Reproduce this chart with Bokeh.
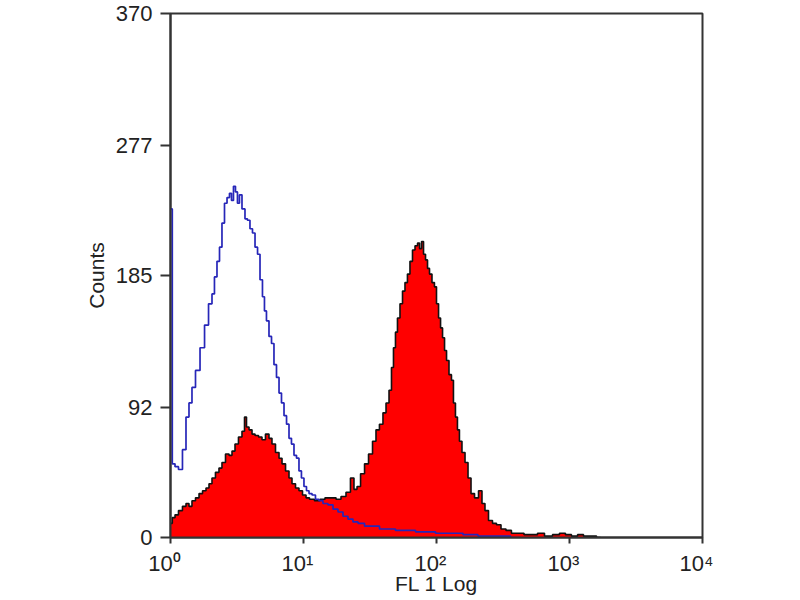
from bokeh.plotting import figure
from bokeh.models import FixedTicker, CustomJSTickFormatter, Range1d
from bokeh.embed import file_html
from bokeh.resources import INLINE

# ---- data (bin positions in log10 decades, counts) ----
blue_log = [0.004, 0.023, 0.045, 0.075, 0.105, 0.128, 0.150, 0.173, 0.203, 0.241,
            0.271, 0.301, 0.323, 0.338, 0.361, 0.376, 0.398, 0.414, 0.436, 0.451,
            0.466, 0.481, 0.496, 0.511, 0.526, 0.549, 0.571, 0.586, 0.609, 0.624,
            0.647, 0.662, 0.684, 0.699, 0.714, 0.729, 0.752, 0.767, 0.789, 0.805,
            0.827, 0.842, 0.865, 0.880, 0.902, 0.917, 0.940, 0.955, 0.977, 0.992,
            1.015, 1.030, 1.053, 1.075, 1.105, 1.128, 1.165, 1.203, 1.241, 1.278,
            1.316, 1.353, 1.391, 1.429, 1.489, 1.541, 1.602, 1.654, 1.729, 1.805,
            1.880, 1.955, 2.030, 2.143, 2.256, 2.368, 2.481, 2.632]
blue_counts = [232, 52, 50, 48, 62, 85, 95, 106, 118, 134,
               150, 165, 172, 184, 195, 205, 222, 236, 240, 243,
               238, 248, 244, 236, 242, 232, 225, 224, 218, 215,
               205, 200, 182, 170, 160, 153, 142, 137, 122, 113,
               102, 95, 86, 80, 70, 66, 58, 56, 47, 42,
               36, 33, 31, 30, 27, 26, 24, 23, 20, 18,
               15, 13, 11, 10, 8, 8, 6, 6, 5, 5,
               4, 4, 3, 3, 2, 1, 1, 0]

red_log = [0.004, 0.023, 0.045, 0.075, 0.105, 0.128, 0.150, 0.173, 0.203, 0.226,
           0.256, 0.278, 0.301, 0.323, 0.353, 0.376, 0.398, 0.429, 0.451, 0.474,
           0.496, 0.526, 0.549, 0.564, 0.579, 0.602, 0.624, 0.647, 0.677, 0.699,
           0.729, 0.752, 0.774, 0.805, 0.827, 0.850, 0.880, 0.902, 0.925, 0.955,
           0.977, 1.008, 1.030, 1.060, 1.105, 1.143, 1.180, 1.226, 1.263, 1.301,
           1.338, 1.368, 1.391, 1.414, 1.444, 1.474, 1.504, 1.534, 1.556, 1.586,
           1.609, 1.632, 1.654, 1.669, 1.684, 1.699, 1.714, 1.737, 1.752, 1.774,
           1.789, 1.812, 1.827, 1.850, 1.865, 1.880, 1.895, 1.910, 1.925, 1.940,
           1.955, 1.977, 1.992, 2.008, 2.023, 2.038, 2.053, 2.068, 2.083, 2.105,
           2.120, 2.135, 2.150, 2.165, 2.180, 2.203, 2.226, 2.248, 2.271, 2.301,
           2.331, 2.353, 2.376, 2.406, 2.436, 2.466, 2.504, 2.541, 2.586, 2.632,
           2.684, 2.737, 2.782, 2.842, 2.902, 2.947, 2.992, 3.038, 3.083, 3.128,
           3.173, 3.233]
red_counts = [10, 14, 16, 19, 22, 24, 22, 26, 28, 31,
              33, 35, 38, 42, 46, 49, 53, 59, 58, 61,
              66, 71, 75, 85, 78, 76, 73, 72, 71, 69,
              73, 70, 66, 60, 56, 52, 47, 42, 38, 35,
              33, 30, 28, 27, 26, 27, 28, 28, 27, 29,
              32, 42, 34, 36, 45, 52, 59, 68, 76, 80,
              88, 95, 104, 120, 134, 145, 155, 165, 174, 180,
              186, 195, 203, 206, 208, 204, 209, 200, 196, 190,
              186, 180, 177, 165, 155, 148, 141, 132, 125, 115,
              111, 95, 85, 76, 68, 60, 53, 42, 31, 28,
              33, 24, 19, 12, 10, 9, 6, 5, 3, 3,
              2, 2, 3, 1, 2, 3, 2, 1, 2, 1,
              1, 0]

y_ticks = [0, 92, 185, 277, 370]
x_ticks = [1, 10, 100, 1000, 10000]

blue_x = [10 ** d for d in blue_log]
red_x = [10 ** d for d in red_log]

p = figure(x_axis_type="log", x_range=Range1d(1, 10000), y_range=Range1d(0, 370),
           frame_width=532, frame_height=524,
           min_border_left=170, min_border_top=13, min_border_right=90, min_border_bottom=55,
           output_backend="svg", toolbar_location=None)

p.varea_step(x=red_x, y1=[0] * len(red_x), y2=red_counts, step_mode="center",
             fill_color="#ff0000")
p.step(red_x, red_counts, mode="center", line_color="#111111", line_width=1.6)
p.step(blue_x, blue_counts, mode="center", line_color="#2626b8", line_width=1.7)

p.xgrid.visible = False
p.ygrid.visible = False
p.outline_line_color = "#333333"
p.outline_line_width = 2
p.background_fill_color = "white"
p.border_fill_color = "white"

p.yaxis.ticker = FixedTicker(ticks=y_ticks)
p.xaxis.ticker = FixedTicker(ticks=x_ticks, minor_ticks=[])
p.xaxis.formatter = CustomJSTickFormatter(code="""
const sup = ['\u2070','\u00b9','\u00b2','\u00b3','\u2074'];
return '10' + sup[Math.round(Math.log10(tick))] + '\u00a0\u00a0';
""")

for ax in (p.xaxis[0], p.yaxis[0]):
    ax.axis_line_color = "#333333"
    ax.axis_line_width = 2
    ax.major_tick_line_color = "#333333"
    ax.major_tick_line_width = 2
    ax.minor_tick_line_color = None
    ax.major_tick_in = 0
    ax.major_label_text_font = "Liberation Sans"
    ax.major_label_text_color = "#222222"
    ax.axis_label_text_font = "Liberation Sans"
    ax.axis_label_text_font_style = "normal"
    ax.axis_label_text_color = "#222222"
    ax.axis_label_text_font_size = "21px"

p.yaxis.major_tick_out = 10
p.yaxis.major_label_standoff = 8
p.yaxis.major_label_text_font_size = "22px"
p.yaxis.axis_label = "Counts"
p.yaxis.axis_label_standoff = 5

p.xaxis.major_tick_out = 6
p.xaxis.major_label_standoff = 7
p.xaxis.major_label_text_font_size = "22px"
p.xaxis.axis_label = "FL 1 Log"
p.xaxis.axis_label_standoff = -7

open("out.html", "w").write(file_html(p, INLINE))
